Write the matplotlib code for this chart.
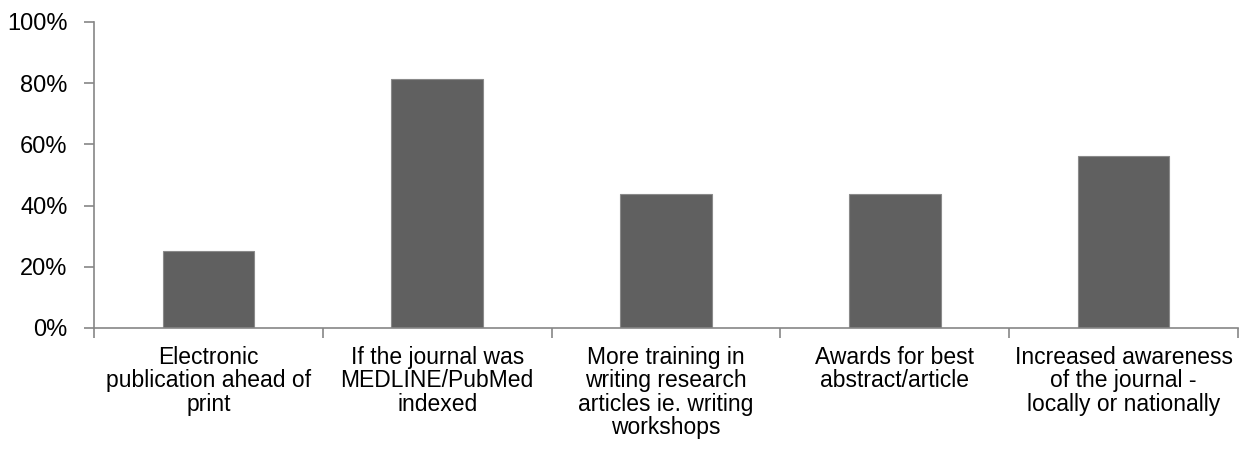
import numpy as np
import matplotlib.pyplot as plt
from matplotlib.ticker import PercentFormatter, FixedLocator

# survey responses: share of respondents per option
categories = [
    "Electronic\npublication ahead of\nprint",
    "If the journal was\nMEDLINE/PubMed\nindexed",
    "More training in\nwriting research\narticles ie. writing\nworkshops",
    "Awards for best\nabstract/article",
    "Increased awareness\nof the journal -\nlocally or nationally",
]
share = [25.0, 81.25, 43.75, 43.75, 56.25]
yticks = [0, 20, 40, 60, 80, 100]

plt.rcParams['font.family'] = ['Liberation Sans', 'DejaVu Sans']
AXIS_GREY = "#868686"

fig = plt.figure(figsize=(12.43, 4.73), dpi=100)
ax = fig.add_axes([0.0756, 0.3066, 0.9204, 0.6469])

x = np.arange(len(categories))
ax.bar(x, share, width=0.4, color="#606060", edgecolor="#8a8a8a", linewidth=0.8, zorder=2)

ax.set_xlim(-0.5, len(categories) - 0.5)
ax.set_ylim(0, 100)
ax.set_yticks(yticks)
ax.yaxis.set_major_formatter(PercentFormatter(decimals=0))

ax.set_xticks(x)
ax.set_xticklabels(categories, fontsize=16.5, linespacing=1.02)
ax.tick_params(axis='x', which='major', length=0, pad=13)
ax.xaxis.set_minor_locator(FixedLocator(np.arange(-0.5, len(categories), 1.0)))
ax.tick_params(axis='x', which='minor', length=7, color=AXIS_GREY, width=1.2)
ax.tick_params(axis='y', length=7, color=AXIS_GREY, width=1.2, labelsize=17, pad=12)

for side in ("top", "right"):
    ax.spines[side].set_visible(False)
for side in ("left", "bottom"):
    ax.spines[side].set_color(AXIS_GREY)
    ax.spines[side].set_linewidth(1.2)

fig.savefig("out.png", dpi=100)
